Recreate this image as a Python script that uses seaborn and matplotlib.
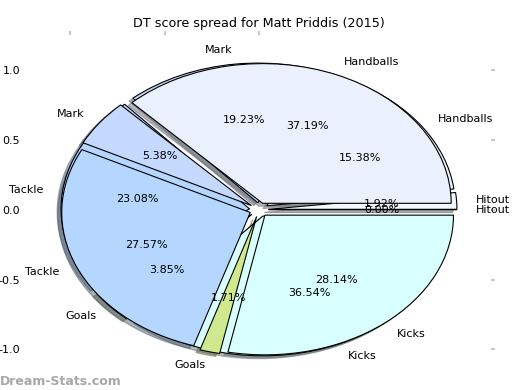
import matplotlib
matplotlib.use('Agg')
import matplotlib.pyplot as plt
import seaborn as sns

# Données : part de chaque statistique (en %)
categories = ['Hitout', 'Handballs', 'Mark', 'Tackle', 'Goals', 'Kicks']
dt_share = [0.00, 37.19, 5.38, 27.57, 1.71, 28.14]      # part du score DT
stat_share = [1.92, 15.38, 19.23, 23.08, 3.85, 36.54]   # part des actions
colors = ['#f4f8ff', '#eaf1fd', '#c5d8fd', '#b5d6fe', '#d0e98f', '#d9fefe']

sns.set_style('white')
plt.rcParams['font.family'] = ['DejaVu Sans']
plt.rcParams['text.color'] = 'black'
plt.rcParams['xtick.labelcolor'] = 'black'
plt.rcParams['ytick.labelcolor'] = 'black'
plt.rcParams['axes.unicode_minus'] = False

fig = plt.figure(figsize=(5.2, 3.9), dpi=100)
ax = fig.add_axes([0.052, 0.018, 0.892, 0.892])

explode = [0.05] * len(categories)
common = dict(labels=categories, colors=colors, explode=explode,
              autopct='%1.2f%%', frame=True,
              shadow={'ox': -0.015, 'oy': -0.015, 'shade': 0.55},
              wedgeprops={'edgecolor': 'black', 'linewidth': 0.8},
              textprops={'fontsize': 8, 'color': 'black'})

# Camembert des actions dessous, score DT par-dessus
ax.pie(stat_share, **common)
ax.pie(dt_share, **common)

ax.set_aspect('auto')
ax.set_xlim(-1.23, 1.23)
ax.set_ylim(-1.24, 1.25)
ax.set_xticks([-1.0, -0.5, 0.0])
ax.set_yticks([-1.0, -0.5, 0.0, 0.5, 1.0])
for s in ax.spines.values():
    s.set_visible(False)
ax.tick_params(top=True, right=True, length=3, width=1.5, color='#c8c8c8',
               labelsize=8, direction='out', pad=2)
ax.set_title('DT score spread for Matt Priddis (2015)', fontsize=9.2,
             color='black')

fig.text(0.0, 0.012, 'Dream-Stats.com', color='#a8a8a8', fontsize=9,
         fontweight='bold')

plt.savefig('out.png', dpi=100)
